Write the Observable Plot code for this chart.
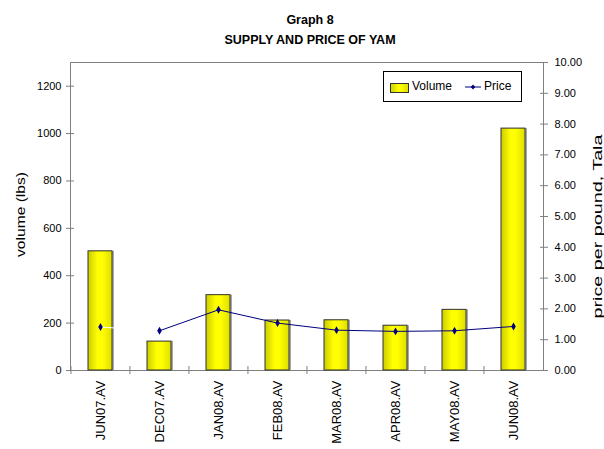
<!DOCTYPE html>
<html>
<head>
<meta charset="utf-8">
<script src="https://cdn.jsdelivr.net/npm/d3@7"></script>
<script src="https://cdn.jsdelivr.net/npm/@observablehq/plot@0.6"></script>
<style>
  html, body { margin: 0; padding: 0; background: #fff; }
  #wrap { position: relative; width: 604px; height: 449px; overflow: hidden; font-family: "Liberation Sans", Arial, sans-serif; }
  #title { height: 55px; box-sizing: border-box; padding-top: 10px; padding-left: 16px; text-align: center; font-weight: bold; font-size: 12.5px; line-height: 20px; color: #000; }
  #legend { position: absolute; left: 383px; top: 71px; width: 139px; height: 31px; box-sizing: border-box; border: 1px solid #000; background: #fff; font-size: 12px; }
  #legend .sw { position: absolute; left: 6px; top: 11px; width: 17px; height: 8px; border: 1px solid #333; background: linear-gradient(to right, #d0d000, #ffff00 45%, #ffff00 55%, #e0e000); }
  #legend .t1 { position: absolute; left: 28px; top: 7px; }
  #legend .t2 { position: absolute; left: 100px; top: 7px; }
  #legend svg { position: absolute; left: 81px; top: 9px; }
</style>
</head>
<body>
<div id="wrap">
  <div id="title">Graph 8<br>SUPPLY AND PRICE OF YAM</div>
  <div id="chart"></div>
  <div id="legend">
    <div class="sw"></div><span class="t1">Volume</span>
    <svg width="16" height="12"><line x1="0" y1="6" x2="16" y2="6" stroke="#000080" stroke-width="1"/><path d="M8,3.5L10.3,6L8,8.5L5.7,6Z" fill="#000080"/></svg>
    <span class="t2">Price</span>
  </div>
</div>
<script>
const categories = ["JUN07.AV","DEC07.AV","JAN08.AV","FEB08.AV","MAR08.AV","APR08.AV","MAY08.AV","JUN08.AV"];
const volume = [503, 122, 318, 211, 212, 189, 256, 1021];
const price = [1.41, 1.29, 1.97, 1.54, 1.31, 1.27, 1.29, 1.43];
const volumeTicks = [0, 200, 400, 600, 800, 1000, 1200];
const priceTicks = [0, 1, 2, 3, 4, 5, 6, 7, 8, 9, 10];
const volumeMax = 1300;
const priceMax = 10;
const leftTitle = "volume (lbs)";
const rightTitle = "price per pound, Tala";

const k = volumeMax / priceMax;
const data = categories.map((c, i) => ({month: c, volume: volume[i], price: price[i]}));

const W = 604, H = 394, mL = 70, mR = 61, mT = 7, mB = 79;
const step = (W - mL - mR) / categories.length;

const chart = Plot.plot({
  width: W, height: H,
  marginLeft: mL, marginRight: mR, marginTop: mT, marginBottom: mB,
  style: {fontFamily: "Liberation Sans, Arial, sans-serif", fontSize: "11px", color: "#000", background: "transparent", overflow: "visible"},
  x: {domain: categories, paddingInner: 0.6, paddingOuter: 0.3, axis: null},
  y: {domain: [0, volumeMax], axis: null},
  marks: [
    () => {
      const defs = d3.create("svg:defs");
      const g = defs.append("linearGradient").attr("id", "barGrad").attr("x1", "0").attr("x2", "1").attr("y1", "0").attr("y2", "0");
      g.append("stop").attr("offset", "0%").attr("stop-color", "#cccc00");
      g.append("stop").attr("offset", "40%").attr("stop-color", "#ffff00");
      g.append("stop").attr("offset", "60%").attr("stop-color", "#ffff00");
      g.append("stop").attr("offset", "100%").attr("stop-color", "#dede00");
      return defs.node();
    },
    Plot.frame({stroke: "#808080"}),
    Plot.barY(data, {x: "month", y: "volume", fill: "#a8a8a8", dx: 2}),
    Plot.barY(data, {x: "month", y: "volume", fill: "url(#barGrad)", stroke: "#333", strokeWidth: 1}),
    Plot.line(data.slice(0, 2), {x: "month", y: d => d.price * k, stroke: "#fff", strokeWidth: 1}),
    Plot.line(data.slice(1), {x: "month", y: d => d.price * k, stroke: "#000080", strokeWidth: 1}),
    Plot.dot(data, {x: "month", y: d => d.price * k, symbol: "diamond", r: 2.4, fill: "#000080", stroke: null}),
    Plot.axisY(volumeTicks, {anchor: "left", tickSize: 8, dx: 4, tickPadding: 5, label: null, fontSize: 11, tickFormat: d => String(d)}),
    Plot.axisY(priceTicks.map(p => p * k), {anchor: "right", tickSize: 8, dx: -4, tickPadding: 7, label: null, fontSize: 11, tickFormat: d => (d / k).toFixed(2)}),
    Plot.axisX({tickSize: 8, dx: -step / 2, dy: -4, tickFormat: () => "", label: null}),
    Plot.axisX({tickSize: 0, tickPadding: 10, tickRotate: -90, label: null, fontSize: 13}),
    Plot.text([leftTitle], {frameAnchor: "left", dx: -50, dy: -2, rotate: -90, textAnchor: "middle", fontSize: 13, text: d => d}),
    Plot.text([rightTitle], {frameAnchor: "right", dx: 54, dy: 10, rotate: -90, textAnchor: "middle", fontSize: 13, text: d => d})
  ]
});
document.getElementById("chart").appendChild(chart);
const sel = d3.select(chart);
sel.selectAll('[aria-label="y-axis tick"], [aria-label="x-axis tick"]').attr("stroke", "#808080");
sel.selectAll('[aria-label="y-axis tick"] path, [aria-label="x-axis tick"] path').attr("stroke", "#808080");
sel.selectAll('g[aria-label="text"] text').each(function () {
  const t = this.textContent;
  if (t === leftTitle) d3.select(this).attr("textLength", 85).attr("lengthAdjust", "spacingAndGlyphs");
  if (t === rightTitle) d3.select(this).attr("textLength", 184).attr("lengthAdjust", "spacingAndGlyphs");
});
</script>
</body>
</html>
